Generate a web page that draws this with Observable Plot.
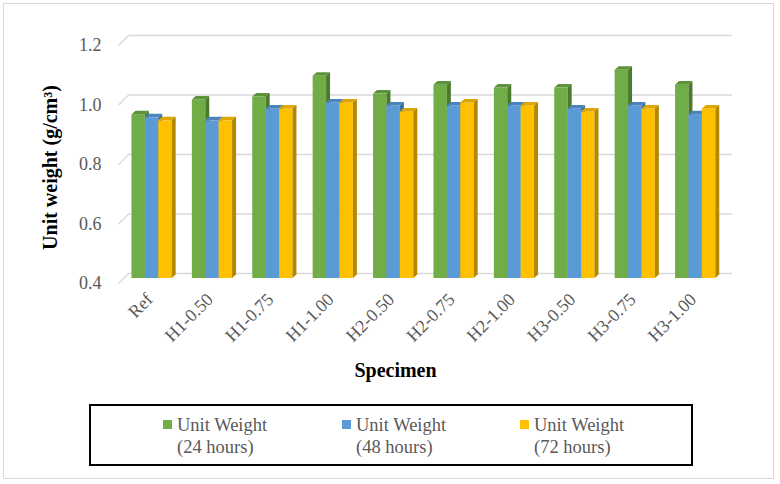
<!DOCTYPE html>
<html>
<head>
<meta charset="utf-8">
<script src="https://cdn.jsdelivr.net/npm/d3@7"></script>
<script src="https://cdn.jsdelivr.net/npm/@observablehq/plot@0.6"></script>
<style>
  html, body { margin: 0; padding: 0; background: #fff; }
  #wrap { position: relative; width: 780px; height: 484px; overflow: hidden; font-family: "Liberation Serif", "Times New Roman", serif; }
  #frame { position: absolute; left: 3px; top: 3px; width: 769px; height: 474px; border: 1px solid #d9d9d9; pointer-events: none; }
  #chart { position: absolute; left: 0; top: 0; }
  #legend { position: absolute; left: 89px; top: 404px; width: 600px; height: 58px; border: 2px solid #000; box-sizing: content-box; }
  .item { position: absolute; top: 8px; color: #595959; font-size: 18.5px; line-height: 22px; }
  .sw { position: absolute; width: 9px; height: 9px; top: 6px; }
  .txt { position: absolute; left: 14px; white-space: nowrap; }
</style>
</head>
<body>
<div id="wrap">
  <div id="chart"></div>
  <div id="legend"></div>
  <div id="frame"></div>
</div>
<script>
// ---- data ----
const categories = ["Ref", "H1-0.50", "H1-0.75", "H1-1.00", "H2-0.50", "H2-0.75", "H2-1.00", "H3-0.50", "H3-0.75", "H3-1.00"];
const uw24 = [0.95, 1.00, 1.01, 1.08, 1.02, 1.05, 1.04, 1.04, 1.10, 1.05];
const uw48 = [0.94, 0.93, 0.97, 0.99, 0.98, 0.98, 0.98, 0.97, 0.98, 0.95];
const uw72 = [0.93, 0.93, 0.97, 0.99, 0.96, 0.99, 0.98, 0.96, 0.97, 0.97];
const seriesLabels = [["Unit Weight", "(24 hours)"], ["Unit Weight", "(48 hours)"], ["Unit Weight", "(72 hours)"]];
const yTicks = [0.4, 0.6, 0.8, 1.0, 1.2];

const frontColors = ["#70AD47", "#5B9BD5", "#FFC000"];
const topColors = ["#5E9339", "#4A84BA", "#DDA600"];
const sideColors = ["#4A7A2C", "#3B6E9E", "#B38800"];

// ---- geometry (in scale units) ----
const yMin = 0.4;
const groupLeft = -0.36, barW = 0.222;
const depthX = 0.066, depthY = 0.0118;     // bar depth
const wallX = 0.083, wallY = 0.0168;       // half depth of floor/walls

const seriesValues = [uw24, uw48, uw72];
const rows = [];
seriesValues.forEach((vals, s) => vals.forEach((v, i) => {
  const xl = i + groupLeft + s * barW;
  rows.push({i, s, v, xl, xr: xl + barW, key: s + "-" + i});
}));
const tops = rows.flatMap(d => [
  {s: d.s, key: d.key, y: d.v, x1: d.xl, x2: d.xr},
  {s: d.s, key: d.key, y: d.v + depthY, x1: d.xl + depthX, x2: d.xr + depthX}
]);
const sides = rows.flatMap(d => [
  {s: d.s, key: d.key, x: d.xr, y1: yMin, y2: d.v},
  {s: d.s, key: d.key, x: d.xr + depthX, y1: yMin + depthY, y2: d.v + depthY}
]);

const barMarks = [0, 1, 2].flatMap(s => [
  Plot.rect(rows.filter(d => d.s === s), {x1: "xl", x2: "xr", y1: yMin, y2: "v", fill: frontColors[s]}),
  Plot.areaX(tops.filter(d => d.s === s), {y: "y", x1: "x1", x2: "x2", z: "key", fill: topColors[s]}),
  Plot.areaY(sides.filter(d => d.s === s), {x: "x", y1: "y1", y2: "y2", z: "key", fill: sideColors[s]})
]);

const chart = Plot.plot({
  width: 780,
  height: 400,
  marginLeft: 123,
  marginRight: 53,
  marginTop: 40,
  marginBottom: 122,
  style: {fontFamily: "'Liberation Serif', 'Times New Roman', serif", background: "transparent", overflow: "visible"},
  x: {type: "linear", domain: [-0.5, 9.5], axis: null},
  y: {domain: [0.4, 1.2], axis: null},
  marks: [
    // back-wall gridlines
    Plot.ruleY(yTicks, {y: d => d + wallY, x1: -0.5 + wallX, x2: 9.5 + wallX, stroke: "#d9d9d9", strokeWidth: 1.3}),
    // side-wall slanted stubs
    Plot.link(yTicks, {x1: -0.5 - wallX, y1: d => d - wallY, x2: -0.5 + wallX, y2: d => d + wallY, stroke: "#d9d9d9", strokeWidth: 1.3}),
    ...barMarks,
    Plot.axisY({ticks: yTicks, tickFormat: d3.format(".1f"), tickSize: 0, tickPadding: 22, dy: 5, fontSize: 18, fill: "#595959", label: null}),
    Plot.axisX({ticks: d3.range(categories.length), tickFormat: i => categories[i], tickRotate: -45, tickSize: 0, tickPadding: 18, dx: -4, fontSize: 18, fill: "#595959", label: null}),
    Plot.text(["Unit weight (g/cm³)"], {text: d => d, frameAnchor: "left", textAnchor: "middle", rotate: -90, dx: -73, dy: 8, fontSize: 20, fontWeight: "bold", fill: "#000"}),
    Plot.text(["Specimen"], {text: d => d, frameAnchor: "bottom", dx: -30, dy: 98, fontSize: 20, fontWeight: "bold", fill: "#000"})
  ]
});
document.getElementById("chart").appendChild(chart);

// ---- legend ----
const legend = document.getElementById("legend");
const itemLeft = [72, 251, 429];
seriesLabels.forEach((lines, s) => {
  const it = document.createElement("div");
  it.className = "item";
  it.style.left = itemLeft[s] + "px";
  const sw = document.createElement("div");
  sw.className = "sw";
  sw.style.background = frontColors[s];
  const tx = document.createElement("div");
  tx.className = "txt";
  tx.innerHTML = lines.join("<br>");
  it.appendChild(sw);
  it.appendChild(tx);
  legend.appendChild(it);
});
</script>
</body>
</html>
